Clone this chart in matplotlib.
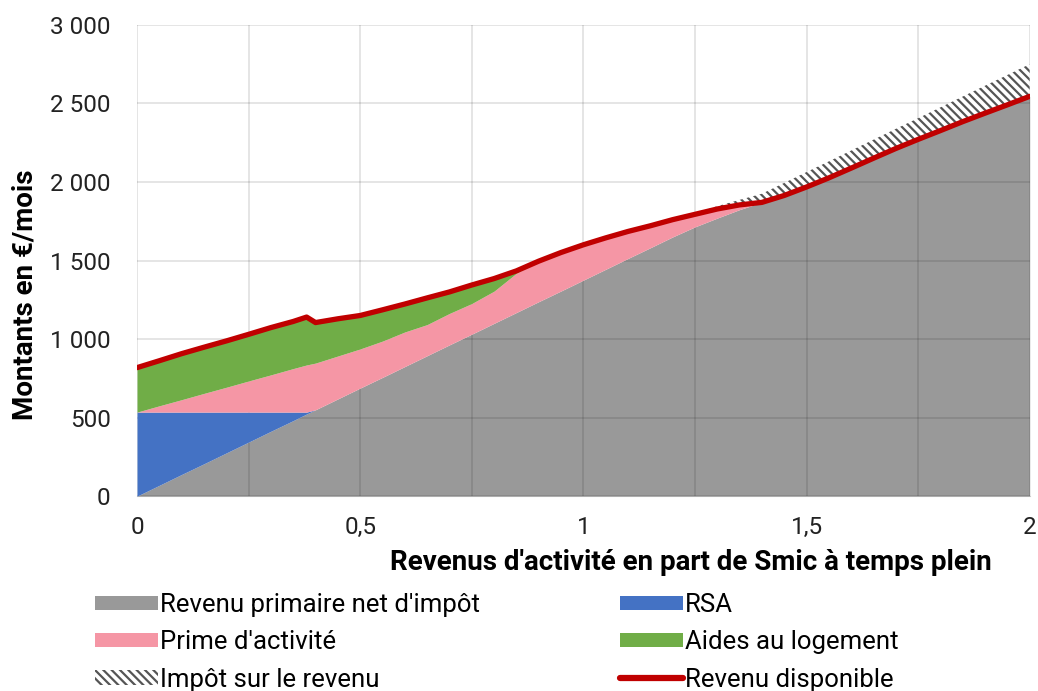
import numpy as np
import matplotlib
matplotlib.use("Agg")
import matplotlib.pyplot as plt
from matplotlib.patches import Patch
from matplotlib.lines import Line2D
from matplotlib.ticker import FuncFormatter, MultipleLocator

plt.rcParams["font.family"] = ["Roboto", "DejaVu Sans"]
plt.rcParams["hatch.linewidth"] = 1.6

# part de Smic a temps plein
smic_share = [0, 0.05, 0.1, 0.15, 0.2, 0.25, 0.3, 0.35, 0.38, 0.40, 0.45, 0.5, 0.55,
              0.6, 0.65, 0.7, 0.75, 0.8, 0.85, 0.9, 0.95, 1.0, 1.05, 1.1, 1.15, 1.2,
              1.25, 1.3, 1.35, 1.4, 1.45, 1.5, 1.55, 1.6, 1.65, 1.7, 1.75, 1.8, 1.85,
              1.9, 1.95, 2.0]
# revenu primaire avant impot (EUR/mois)
primary = [0, 69, 138, 206, 275, 344, 413, 481, 523, 550, 619, 688, 756, 825, 894,
           963, 1031, 1100, 1169, 1238, 1306, 1375, 1444, 1513, 1581, 1650, 1719,
           1788, 1856, 1925, 1994, 2063, 2131, 2200, 2269, 2338, 2406, 2475, 2544,
           2613, 2681, 2750]
rsa = [535, 466, 397, 329, 260, 191, 122, 54, 12, 0, 0, 0, 0, 0, 0, 0, 0, 0, 0, 0,
       0, 0, 0, 0, 0, 0, 0, 0, 0, 0, 0, 0, 0, 0, 0, 0, 0, 0, 0, 0, 0, 0]
prime = [0, 40, 79, 119, 158, 198, 237, 277, 300, 297, 273, 249, 231, 220, 198, 200,
         195, 205, 250, 258, 245, 225, 200, 172, 140, 110, 80, 58, 30, 0, 0, 0, 0,
         0, 0, 0, 0, 0, 0, 0, 0, 0]
logement = [283, 287, 293, 294, 295, 297, 301, 300, 305, 258, 237, 213, 199, 178,
            170, 137, 118, 80, 15, 0, 0, 0, 0, 0, 0, 0, 0, 0, 0, 0, 0, 0, 0, 0, 0,
            0, 0, 0, 0, 0, 0, 0]
impot = [0, 0, 0, 0, 0, 0, 0, 0, 0, 0, 0, 0, 0, 0, 0, 0, 0, 0, 0, 0, 0, 0, 0, 0, 0,
         0, 5, 18, 32, 55, 80, 95, 105, 112, 118, 125, 135, 148, 160, 175, 190, 205]

x = np.array(smic_share)
net = np.array(primary) - np.array(impot)
lvl1 = net + np.array(rsa)
lvl2 = lvl1 + np.array(prime)
dispo = lvl2 + np.array(logement)
top = dispo + np.array(impot)

GRAY = "#999999"
BLUE = "#4472C4"
PINK = "#F596A5"
GREEN = "#70AD47"
RED = "#C00000"
HATCH = "#555555"

fig = plt.figure(figsize=(10.38, 6.91), dpi=100)
ax = fig.add_axes([0.132, 0.282, 0.860, 0.682])

ax.fill_between(x, 0, net, color=GRAY, lw=0, zorder=1)
ax.fill_between(x, net, lvl1, color=BLUE, lw=0, zorder=2)
ax.fill_between(x, lvl1, lvl2, color=PINK, lw=0, zorder=2)
ax.fill_between(x, lvl2, dispo, color=GREEN, lw=0, zorder=2)
ax.fill_between(x, dispo, top, where=np.array(impot) > 0, interpolate=True,
                facecolor="white", edgecolor=HATCH, hatch="\\\\\\\\", lw=0, zorder=2)
ax.plot(x, dispo, color=RED, lw=3.8, solid_capstyle="round", zorder=3)

ax.set_xlim(0, 2)
ax.set_ylim(0, 3000)
ax.xaxis.set_major_locator(MultipleLocator(0.5))
ax.xaxis.set_minor_locator(MultipleLocator(0.25))
ax.yaxis.set_major_locator(MultipleLocator(500))
# grid sits between the gray area and the other areas
ax.set_axisbelow("line")
ax.grid(True, which="both", axis="x", color="black", alpha=0.12, lw=1.2)
ax.grid(True, which="major", axis="y", color="black", alpha=0.12, lw=1.2)

for s in ["top", "right", "left"]:
    ax.spines[s].set_visible(False)
ax.spines["bottom"].set_color("#d0d0d0")
ax.spines["bottom"].set_zorder(0.5)

ax.tick_params(which="both", length=0)
ax.tick_params(axis="y", pad=19, labelsize=17.5, labelcolor="#222222")
ax.tick_params(axis="x", pad=14, labelsize=17.5, labelcolor="#222222")
ax.yaxis.set_major_formatter(FuncFormatter(lambda v, p: f"{int(v):,}".replace(",", " ")))
ax.xaxis.set_major_formatter(FuncFormatter(lambda v, p: f"{v:g}".replace(".", ",")))

ax.set_ylabel("Montants en €/mois", fontsize=20, fontweight="bold")
ax.yaxis.set_label_coords(-0.11, 0.427)
fig.text(0.666, 0.186, "Revenus d'activité en part de Smic à temps plein",
         ha="center", va="center", fontsize=20, fontweight="bold")

left_handles = [
    Patch(facecolor=GRAY, edgecolor="none"),
    Patch(facecolor=PINK, edgecolor="none"),
    Patch(facecolor="white", edgecolor=HATCH, hatch="\\\\\\\\", lw=0),
]
left_labels = ["Revenu primaire net d'impôt", "Prime d'activité", "Impôt sur le revenu"]
right_handles = [
    Patch(facecolor=BLUE, edgecolor="none"),
    Patch(facecolor=GREEN, edgecolor="none"),
    Line2D([], [], color=RED, lw=4.5, solid_capstyle="round"),
]
right_labels = ["RSA", "Aides au logement", "Revenu disponible"]

common = dict(frameon=False, fontsize=18.5, handlelength=2.45, handleheight=0.47,
              handletextpad=0.08, labelspacing=0.52, borderpad=0, borderaxespad=0)
leg1 = fig.legend(left_handles, left_labels, loc="upper left",
                  bbox_to_anchor=(0.0915, 0.142), **common)
leg2 = fig.legend(right_handles, right_labels, loc="upper left",
                  bbox_to_anchor=(0.597, 0.142), **common)

fig.savefig("out.png", dpi=100)
